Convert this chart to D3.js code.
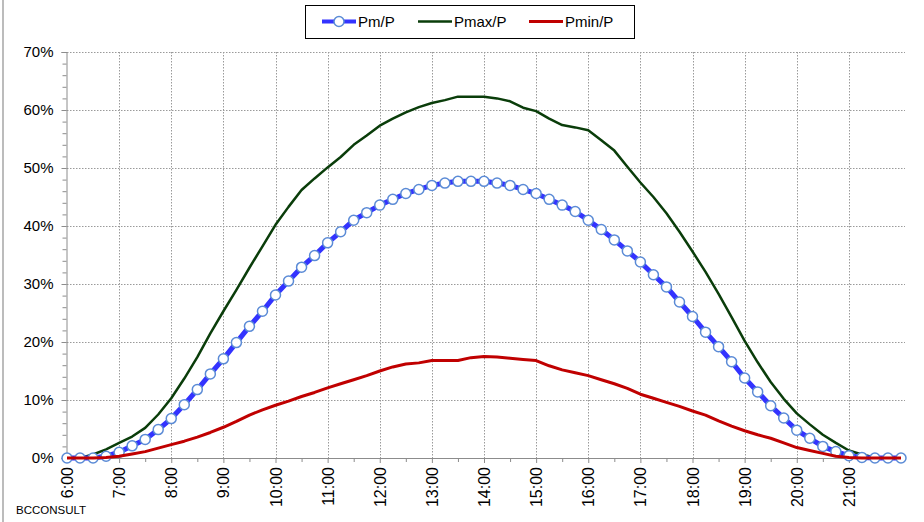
<!DOCTYPE html>
<html>
<head>
<meta charset="utf-8">
<script src="https://cdn.jsdelivr.net/npm/d3@7"></script>
<style>
  html, body { margin: 0; padding: 0; background: #fff; }
  svg { display: block; font-family: "Liberation Sans", Arial, sans-serif; }
</style>
</head>
<body>
<svg id="chart" width="924" height="522"></svg>
<script>
// Time of day (hours), every 15 minutes from 6:00 to 22:00
const times = d3.range(0, 65).map(i => 6 + i * 0.25);
const hourTicks = d3.range(6, 22);            // labelled ticks 6:00 … 21:00
const halfHourTicks = d3.range(6.5, 22, 1);   // minor ticks
const yTicks = [0, 10, 20, 30, 40, 50, 60, 70];
const yMinorTicks = d3.range(0, 71, 2);

const seriesNames = ["Pm/P", "Pmax/P", "Pmin/P"];

const pm = [0, 0, 0, 0.3, 1.0, 2.1, 3.2, 4.9, 6.8, 9.2, 11.8, 14.5, 17.1, 19.9, 22.7, 25.3,
  28.1, 30.5, 32.9, 34.9, 37.1, 39.0, 41.0, 42.3, 43.6, 44.6, 45.6, 46.3, 47.0, 47.4, 47.7, 47.7,
  47.7, 47.4, 47.0, 46.3, 45.6, 44.6, 43.6, 42.5, 41.0, 39.4, 37.6, 35.7, 33.8, 31.6, 29.5, 26.9,
  24.4, 21.7, 19.2, 16.6, 13.8, 11.4, 9.0, 6.9, 4.8, 3.4, 2.0, 1.1, 0.4, 0.1, 0, 0, 0];

const pmax = [0, 0, 0.6, 1.5, 2.6, 3.7, 5.2, 7.5, 10.3, 13.7, 17.4, 21.5, 25.3, 29.0, 32.8, 36.5,
  40.2, 43.3, 46.2, 48.2, 50.1, 51.9, 54.0, 55.6, 57.3, 58.5, 59.6, 60.5, 61.2, 61.7, 62.3, 62.3,
  62.3, 62.0, 61.5, 60.4, 59.8, 58.5, 57.4, 57.0, 56.5, 54.8, 53.0, 50.2, 47.5, 45.0, 42.2, 39.0,
  35.6, 32.1, 28.3, 24.3, 20.2, 16.5, 13.1, 10.2, 7.7, 5.8, 4.0, 2.6, 1.3, 0.6, 0.1, 0, 0];

const pmin = [0, 0, 0, 0.1, 0.3, 0.7, 1.1, 1.7, 2.3, 2.9, 3.6, 4.4, 5.3, 6.3, 7.4, 8.3,
  9.1, 9.8, 10.6, 11.3, 12.1, 12.8, 13.5, 14.2, 15.0, 15.7, 16.2, 16.4, 16.8, 16.8, 16.8, 17.3,
  17.5, 17.4, 17.2, 17.0, 16.8, 15.9, 15.2, 14.7, 14.2, 13.5, 12.8, 12.0, 11.0, 10.3, 9.6, 8.9,
  8.1, 7.4, 6.4, 5.5, 4.7, 4.0, 3.4, 2.6, 1.8, 1.3, 0.8, 0.3, 0.1, 0, 0, 0, 0];

const colors = { pm: "#3333ff", pmMarker: "#5b8bd6", pmax: "#0a3d0a", pmin: "#c00000" };

const svg = d3.select("#chart");
const x = d3.scaleLinear().domain([6, 22]).range([67, 901]);
const y = d3.scaleLinear().domain([0, 70]).range([458, 52]);
const xEnd = 905;

// left border of chart area
svg.append("line").attr("x1", 3).attr("x2", 3).attr("y1", 0).attr("y2", 522)
  .attr("stroke", "#a6a6a6").attr("stroke-width", 1.5);

// gridlines
const grid = svg.append("g").attr("stroke", "#9a9a9a").attr("stroke-width", 1)
  .attr("stroke-dasharray", "1.5,1.5");
grid.selectAll(".hg").data(yTicks.slice(1)).join("line")
  .attr("x1", x(6)).attr("x2", xEnd)
  .attr("y1", d => Math.round(y(d)) + 0.5).attr("y2", d => Math.round(y(d)) + 0.5);
grid.selectAll(".vg").data(hourTicks.slice(1)).join("line")
  .attr("x1", d => Math.round(x(d)) + 0.5).attr("x2", d => Math.round(x(d)) + 0.5)
  .attr("y1", y(70)).attr("y2", y(0));

// Y axis
const yAxis = svg.append("g").attr("transform", `translate(${x(6) - 0.5},0)`)
  .call(d3.axisLeft(y).tickValues(yTicks).tickFormat(d => d + "%").tickSize(5).tickPadding(8));
svg.append("g").attr("transform", `translate(${x(6) - 0.5},0)`)
  .call(d3.axisLeft(y).tickValues(yMinorTicks).tickFormat("").tickSize(4))
  .call(g => g.select(".domain").remove());
yAxis.selectAll("text").attr("font-size", 15).attr("fill", "#000")
  .attr("font-family", "Liberation Sans, Arial, sans-serif");
svg.selectAll(".domain, .tick line").attr("stroke", "#8c8c8c");

// X axis
const xAxis = svg.append("g").attr("transform", `translate(0,${y(0)})`)
  .call(d3.axisBottom(x).tickValues(hourTicks).tickSize(5)
    .tickFormat(d => d + ":00"));
xAxis.select(".domain").attr("d", `M${x(6)},0.5H${xEnd}`);
xAxis.selectAll("text")
  .attr("font-size", 16).attr("fill", "#000")
  .attr("font-family", "Liberation Sans, Arial, sans-serif")
  .attr("transform", "rotate(-90)")
  .attr("text-anchor", "end")
  .attr("x", -9).attr("y", 0).attr("dy", "0.35em");
svg.append("g").attr("transform", `translate(0,${y(0)})`)
  .call(d3.axisBottom(x).tickValues(halfHourTicks).tickFormat("").tickSize(4))
  .call(g => g.select(".domain").remove());
svg.selectAll(".domain, .tick line").attr("stroke", "#8c8c8c");

// lines
const lineGen = vals => d3.line().x((d, i) => x(times[i])).y(d => y(d))(vals);

svg.append("path").attr("d", lineGen(pmax)).attr("fill", "none")
  .attr("stroke", colors.pmax).attr("stroke-width", 2.5).attr("stroke-linejoin", "round");
svg.append("path").attr("d", lineGen(pm)).attr("fill", "none")
  .attr("stroke", colors.pm).attr("stroke-width", 5).attr("stroke-linejoin", "round");
svg.append("g").selectAll("circle").data(pm).join("circle")
  .attr("cx", (d, i) => x(times[i])).attr("cy", d => y(d)).attr("r", 5)
  .attr("fill", "#fff").attr("stroke", colors.pmMarker).attr("stroke-width", 1.5);
svg.append("path").attr("d", lineGen(pmin)).attr("fill", "none")
  .attr("stroke", colors.pmin).attr("stroke-width", 3).attr("stroke-linejoin", "round");

// legend
const lg = svg.append("g");
lg.append("rect").attr("x", 305.5).attr("y", 5.5).attr("width", 329).attr("height", 33)
  .attr("fill", "#fff").attr("stroke", "#000").attr("stroke-width", 1);
const legendItems = [
  { name: seriesNames[0], x: 322, color: colors.pm, w: 4, marker: true },
  { name: seriesNames[1], x: 418, color: colors.pmax, w: 2.5 },
  { name: seriesNames[2], x: 529, color: colors.pmin, w: 3 }
];
legendItems.forEach(it => {
  lg.append("line").attr("x1", it.x).attr("x2", it.x + 34).attr("y1", 21.5).attr("y2", 21.5)
    .attr("stroke", it.color).attr("stroke-width", it.w);
  if (it.marker) {
    lg.append("circle").attr("cx", it.x + 17).attr("cy", 21.5).attr("r", 5)
      .attr("fill", "#fff").attr("stroke", colors.pmMarker).attr("stroke-width", 1.5);
  }
  lg.append("text").attr("x", it.x + 36).attr("y", 21.5).attr("dy", "0.35em")
    .attr("font-size", 15).attr("fill", "#000").text(it.name);
});

// source label
svg.append("text").attr("x", 16).attr("y", 514).attr("font-size", 11.5).attr("fill", "#000")
  .text("BCCONSULT");
</script>
</body>
</html>
